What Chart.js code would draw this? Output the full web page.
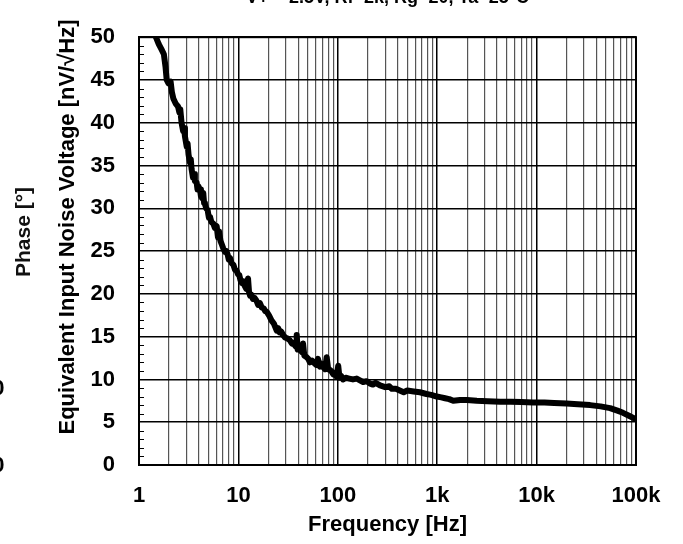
<!DOCTYPE html>
<html>
<head>
<meta charset="utf-8">
<script src="https://cdn.jsdelivr.net/npm/chart.js@4"></script>
<style>
  html, body { margin: 0; padding: 0; background: #fff; }
  #wrap { width: 683px; height: 544px; }
</style>
</head>
<body>
<div id="wrap"><canvas id="c" width="683" height="544"></canvas></div>
<script>
// ---- data ----
const freqHz = [1.40,1.48,1.58,1.68,1.78,1.85,1.90,1.98,2.08,2.14,2.22,2.35,2.47,2.55,2.60,2.68,2.78,2.84,2.90,3.02,3.08,3.15,3.26,3.32,3.38,3.49,3.58,3.65,3.80,3.88,3.95,4.11,4.20,4.30,4.43,4.52,4.61,4.75,4.90,5.05,5.18,5.35,5.60,5.80,6.05,6.23,6.40,6.60,6.80,7.05,7.33,7.55,7.80,8.00,8.23,8.55,8.90,9.25,9.61,9.90,10.2,10.5,10.8,11.1,11.5,12.0,12.5,12.8,13.1,13.5,14.0,14.6,15.2,15.8,16.5,17.2,18.0,18.6,19.3,20.3,21.5,22.8,24.3,25.1,26.0,27.0,28.1,29.5,31.0,32.8,34.6,35.8,37.0,38.0,38.6,39.5,40.8,42.0,43.5,44.7,46.0,48.5,50.5,52.5,55.0,58.0,60.5,63.2,66.0,69.0,72.0,74.5,77.3,80.0,83.5,87.0,90.0,94.0,97.5,101,104,108,113,120,130,142,155,167,180,195,211,225,240,266,300,330,350,385,420,460,500,580,670,780,870,990,1100,1200,1320,1450,1700,1990,2500,3200,4300,5500,7000,9200,12000,15000,20000,26000,34500,44000,54800,65000,74000,85000,100000];
const noiseNv = [51.0,50.0,49.2,48.6,48.0,46.5,45.0,44.6,44.8,43.6,42.8,42.2,41.9,41.2,41.6,40.0,39.0,39.4,38.4,37.2,37.6,36.3,35.3,35.7,34.6,33.6,34.0,33.2,33.0,32.2,32.6,32.2,31.4,31.2,31.8,30.6,30.5,30.0,29.8,28.9,29.0,28.4,28.2,27.7,27.9,26.6,27.3,26.2,25.8,25.3,24.9,25.0,24.6,24.0,24.2,23.6,23.4,22.8,22.7,22.3,22.2,21.6,21.3,21.5,21.0,20.6,21.8,20.2,19.8,19.9,19.4,19.5,19.2,18.7,18.9,18.4,18.3,18.0,17.9,17.5,16.9,16.5,15.7,16.0,15.5,15.6,15.2,14.9,14.8,14.6,14.2,14.3,14.0,13.8,15.2,13.5,13.9,13.4,13.2,14.2,12.8,12.6,12.4,12.0,12.2,11.9,11.7,12.4,11.5,11.8,11.4,11.2,12.6,11.2,11.1,10.9,10.6,10.8,10.3,11.6,10.2,10.4,10.0,10.2,10.1,10.0,10.1,9.9,9.7,9.8,9.5,9.4,9.6,9.3,9.1,9.2,8.9,8.9,8.7,8.5,8.7,8.6,8.5,8.3,8.2,8.0,7.9,7.8,7.7,7.5,7.6,7.6,7.5,7.45,7.4,7.4,7.35,7.3,7.3,7.25,7.2,7.1,7.0,6.85,6.65,6.35,6.1,5.75,5.35];
const xTickValues = [1, 10, 100, 1000, 10000, 100000];
const xTickLabels = ['1', '10', '100', '1k', '10k', '100k'];
const xMinorMultipliers = [2, 3, 4, 5, 6, 7, 8, 9];
const yTickValues = [0, 5, 10, 15, 20, 25, 30, 35, 40, 45, 50];
const yTickLabels = ['0', '5', '10', '15', '20', '25', '30', '35', '40', '45', '50'];
const xTitle = 'Frequency [Hz]';
const yTitle = 'Equivalent Input Noise Voltage [nV/\u221AHz]';
const leftTitle = 'Phase [\u00B0]';
const topTitle = 'V+ = 2.5V, Rf=2k, Rg=20, Ta=25\u00B0C';

const FONT = '"Liberation Sans", Arial, Helvetica, sans-serif';

const points = freqHz.map((f, i) => ({ x: f, y: noiseNv[i] }));

const allXTicks = [];
xTickValues.forEach((d, i) => {
  allXTicks.push(d);
  if (i < xTickValues.length - 1) xMinorMultipliers.forEach(m => allXTicks.push(d * m));
});
allXTicks.sort((a, b) => a - b);

function isDecade(v) {
  return xTickValues.some(d => Math.abs(v - d) < d * 1e-6);
}

const extras = {
  id: 'extras',
  beforeDatasetsDraw(chart) {
    const { ctx, chartArea: a, scales: { y } } = chart;
    ctx.save();
    ctx.strokeStyle = '#000';
    ctx.lineWidth = 1;
    ctx.beginPath();
    for (let v = 0; v <= 50; v++) {
      if (v % 5 === 0) continue;
      const py = Math.round(y.getPixelForValue(v)) + 0.5;
      ctx.moveTo(a.left, py);
      ctx.lineTo(a.left + 5, py);
    }
    ctx.stroke();
    ctx.restore();
  },
  afterDraw(chart) {
    const { ctx, chartArea: a } = chart;
    ctx.save();
    // plot frame
    ctx.strokeStyle = '#000';
    ctx.lineWidth = 2;
    ctx.strokeRect(a.left, a.top, a.right - a.left, a.bottom - a.top);

    // y axis title
    ctx.fillStyle = '#000';
    ctx.font = 'bold 22px ' + FONT;
    ctx.textAlign = 'center';
    ctx.textBaseline = 'middle';
    ctx.save();
    ctx.translate(68, 227);
    ctx.rotate(-Math.PI / 2);
    ctx.fillText(yTitle, 0, 0);
    ctx.restore();

    // second (phase) axis title
    ctx.save();
    ctx.font = 'bold 21px ' + FONT;
    ctx.fillStyle = '#111';
    ctx.translate(24, 232);
    ctx.rotate(-Math.PI / 2);
    ctx.fillText(leftTitle, 0, 0);
    ctx.restore();

    // clipped heading at the top
    ctx.font = 'bold 18px ' + FONT;
    ctx.textAlign = 'center';
    ctx.textBaseline = 'alphabetic';
    ctx.fillText(topTitle, (a.left + a.right) / 2, 3);

    // clipped labels at the far left edge
    ctx.font = 'bold 22px ' + FONT;
    ctx.textAlign = 'right';
    ctx.textBaseline = 'middle';
    ctx.fillText('0', 4.5, 389);
    ctx.fillText('0', 4.5, 466);
    ctx.restore();
  }
};

new Chart(document.getElementById('c'), {
  type: 'line',
  data: {
    datasets: [{
      data: points,
      borderColor: '#000',
      borderWidth: 6,
      pointRadius: 0,
      tension: 0,
      fill: false,
      borderJoinStyle: 'round',
      borderCapStyle: 'round'
    }]
  },
  options: {
    responsive: false,
    animation: false,
    devicePixelRatio: 1,
    layout: { padding: { left: 0, right: 47, top: 14, bottom: 0 } },
    plugins: { legend: { display: false }, tooltip: { enabled: false }, title: { display: false } },
    scales: {
      x: {
        type: 'logarithmic',
        position: 'bottom',
        min: 1,
        max: 100000,
        afterBuildTicks(scale) {
          scale.ticks = allXTicks.map(v => ({ value: v }));
        },
        afterFit(scale) { scale.height = 79; },
        ticks: {
          autoSkip: false,
          maxRotation: 0,
          minRotation: 0,
          padding: 18,
          color: '#000',
          font: { family: FONT, size: 22, weight: 'bold' },
          callback(value) {
            const i = xTickValues.findIndex(d => Math.abs(value - d) < d * 1e-6);
            return i >= 0 ? xTickLabels[i] : '';
          }
        },
        grid: {
          drawTicks: false,
          color: ctx => (ctx.tick && isDecade(ctx.tick.value)) ? '#000' : '#555',
          lineWidth: ctx => (ctx.tick && isDecade(ctx.tick.value)) ? 1.5 : 1.2
        },
        border: { display: true, color: '#000', width: 2 },
        title: {
          display: true,
          text: xTitle,
          color: '#000',
          font: { family: FONT, size: 22, weight: 'bold' },
          padding: { top: 0, bottom: 6 }
        }
      },
      y: {
        type: 'linear',
        position: 'left',
        min: 0,
        max: 50,
        afterBuildTicks(scale) {
          scale.ticks = yTickValues.map(v => ({ value: v }));
        },
        afterFit(scale) { scale.width = 139; },
        ticks: {
          autoSkip: false,
          padding: 24,
          color: '#000',
          font: { family: FONT, size: 22, weight: 'bold' },
          callback(value) {
            const i = yTickValues.indexOf(value);
            return i >= 0 ? yTickLabels[i] : '';
          }
        },
        grid: { drawTicks: false, color: '#000', lineWidth: 1.5 },
        border: { display: true, color: '#000', width: 2 },
        title: { display: false }
      }
    }
  },
  plugins: [extras]
});
</script>
</body>
</html>
